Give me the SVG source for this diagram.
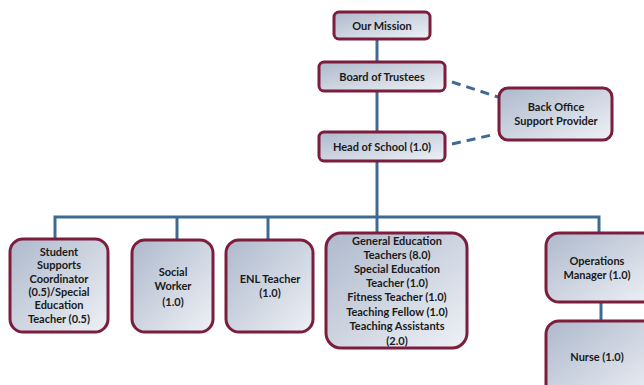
<svg xmlns="http://www.w3.org/2000/svg" width="644" height="385" viewBox="0 0 644 385">
  <defs>
    <linearGradient id="boxFill" x1="0" y1="0" x2="1" y2="1">
      <stop offset="0" stop-color="#aeb9cc"/>
      <stop offset="1" stop-color="#eef1f6"/>
    </linearGradient>
    <style>
      .box { fill: url(#boxFill); stroke: #7c1d3c; stroke-width: 3; }
      .lbl { font-family: Lato, "Liberation Sans", sans-serif; font-weight: bold; font-size: 11px; fill: #1a1a1a; text-anchor: middle; }
      .link { fill: none; stroke: #3f6a94; stroke-width: 3; }
      .dash { fill: none; stroke: #3f6a94; stroke-width: 3; stroke-dasharray: 9 6; }
    </style>
  </defs>
  <rect width="644" height="385" fill="#ffffff"/>

  <g id="connectors">
    <line class="link" x1="377" y1="39" x2="377" y2="232"/>
    <polyline class="link" points="55,239 55,217 599,217 599,232"/>
    <line class="link" x1="177" y1="217" x2="177" y2="239"/>
    <line class="link" x1="268" y1="217" x2="268" y2="240"/>
    <line class="link" x1="601" y1="302" x2="601" y2="320"/>
    <line class="dash" x1="452" y1="82" x2="498" y2="97"/>
    <line class="dash" x1="452" y1="144" x2="496" y2="134"/>
  </g>

  <g id="mission">
    <rect class="box" x="334" y="12" width="96" height="27" rx="5"/>
    <text class="lbl" x="382" y="30">Our Mission</text>
  </g>

  <g id="board">
    <rect class="box" x="319" y="62" width="126" height="29" rx="5"/>
    <text class="lbl" x="382" y="81">Board of Trustees</text>
  </g>

  <g id="head">
    <rect class="box" x="319" y="132" width="126" height="29" rx="5"/>
    <text class="lbl" x="382" y="151">Head of School (1.0)</text>
  </g>

  <g id="backoffice">
    <rect class="box" x="499" y="88" width="113" height="52" rx="9"/>
    <text class="lbl" x="556" y="111">Back Office</text>
    <text class="lbl" x="556" y="125">Support Provider</text>
  </g>

  <g id="student-supports">
    <rect class="box" x="10" y="239" width="98" height="93" rx="13"/>
    <text class="lbl" x="59" y="256">Student</text>
    <text class="lbl" x="59" y="269">Supports</text>
    <text class="lbl" x="59" y="283">Coordinator</text>
    <text class="lbl" x="59" y="296">(0.5)/Special</text>
    <text class="lbl" x="59" y="309">Education</text>
    <text class="lbl" x="59" y="323">Teacher (0.5)</text>
  </g>

  <g id="social-worker">
    <rect class="box" x="132" y="240" width="81" height="92" rx="13"/>
    <text class="lbl" x="173" y="276">Social</text>
    <text class="lbl" x="173" y="290">Worker</text>
    <text class="lbl" x="173" y="306">(1.0)</text>
  </g>

  <g id="enl-teacher">
    <rect class="box" x="226" y="240" width="87" height="92" rx="13"/>
    <text class="lbl" x="270" y="283">ENL Teacher</text>
    <text class="lbl" x="270" y="297">(1.0)</text>
  </g>

  <g id="teaching-staff">
    <rect class="box" x="326" y="233" width="141" height="115" rx="15"/>
    <text class="lbl" x="397" y="245">General Education</text>
    <text class="lbl" x="397" y="259">Teachers (8.0)</text>
    <text class="lbl" x="397" y="273">Special Education</text>
    <text class="lbl" x="397" y="287">Teacher (1.0)</text>
    <text class="lbl" x="397" y="301">Fitness Teacher (1.0)</text>
    <text class="lbl" x="397" y="316">Teaching Fellow (1.0)</text>
    <text class="lbl" x="397" y="330">Teaching Assistants</text>
    <text class="lbl" x="397" y="345">(2.0)</text>
  </g>

  <g id="operations">
    <rect class="box" x="546" y="233" width="110" height="69" rx="13"/>
    <text class="lbl" x="597" y="265">Operations</text>
    <text class="lbl" x="597" y="279">Manager (1.0)</text>
  </g>

  <g id="nurse">
    <rect class="box" x="546" y="321" width="110" height="80" rx="13"/>
    <text class="lbl" x="597" y="361">Nurse (1.0)</text>
  </g>
</svg>
